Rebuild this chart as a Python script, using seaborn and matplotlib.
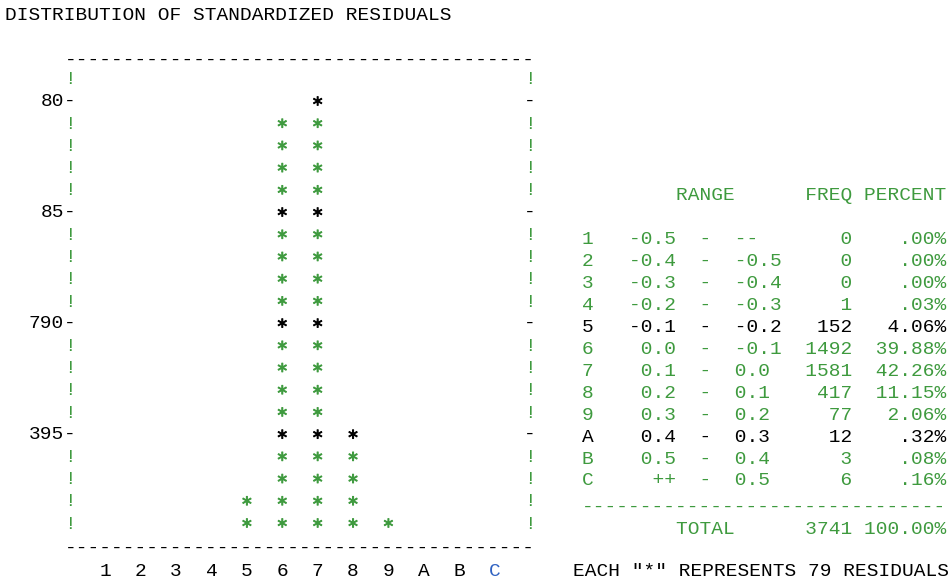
import matplotlib.pyplot as plt
import numpy as np
import pandas as pd
import seaborn as sns

# histogram bins of the standardized residuals
bins = ["1", "2", "3", "4", "5", "6", "7", "8", "9", "A", "B", "C"]
lower = ["-0.5", "-0.4", "-0.3", "-0.2", "-0.1", "0.0", "0.1", "0.2", "0.3", "0.4", "0.5", "++"]
upper = ["--", "-0.5", "-0.4", "-0.3", "-0.2", "-0.1", "0.0", "0.1", "0.2", "0.3", "0.4", "0.5"]
freq = [0, 0, 0, 1, 152, 1492, 1581, 417, 77, 12, 3, 6]
percent = [".00%", ".00%", ".00%", ".03%", "4.06%", "39.88%", "42.26%", "11.15%", "2.06%", ".32%", ".08%", ".16%"]
total_freq = 3741
total_pct = "100.00%"
per_star = 79
y_ticks = [5, 10, 15, 20]
y_tick_labels = ["395", "790", "85", "80"]
black_rows = ["5", "A"]
blue_bins = ["C"]

GREEN = "#3e9a3e"
BLUE = "#2f62c2"
FONT = "Liberation Mono"
FS = 14

sns.set_theme(style="white")
plt.rcParams["font.family"] = [FONT, "DejaVu Sans Mono"]

W, H = 951, 581
fig = plt.figure(figsize=(W / 100, H / 100), dpi=100)
ax = fig.add_axes([0, 0, 1, 1])

# layout: pixel of column 0 / level 20 and their pitch
X0, DX = 70, 35.38
Y20, DY = 101, 22.21
ax.set_xlim(-X0 / DX, (W - X0) / DX)
ax.set_ylim(20 - (H - Y20) / DY, 20 + Y20 / DY)
ax.axis("off")

n_cols = len(bins) + 1
top_level = max(y_ticks) + 1

# one star per 79 residuals
rows = []
for i, (b, f) in enumerate(zip(bins, freq)):
    n = int(f / per_star + 0.5)
    for lev in range(1, n + 1):
        rows.append({"pos": i + 1, "level": lev,
                     "kind": "mark" if lev in y_ticks else "plain"})
stars = pd.DataFrame(rows)

sns.scatterplot(data=stars, x="pos", y="level", hue="kind",
                palette={"mark": "black", "plain": GREEN},
                marker="$*$", s=40, linewidth=0.7, edgecolor="face",
                legend=False, ax=ax)

txt = dict(fontsize=FS, family=FONT)

# frame
for lev in range(1, top_level + 1):
    if lev in y_ticks:
        ax.text(0, lev, "-", ha="center", va="center", color="black", **txt)
        ax.text(n_cols, lev, "-", ha="center", va="center", color="black", **txt)
        lab = y_tick_labels[y_ticks.index(lev)]
        ax.text(-0.17, lev, lab, ha="right", va="center", color="black", **txt)
    else:
        ax.text(0, lev - 0.05, "!", ha="center", va="center", color=GREEN, **txt)
        ax.text(n_cols, lev - 0.05, "!", ha="center", va="center", color=GREEN, **txt)

dash_line = "-" * 40
ax.text(n_cols / 2, top_level + 0.85, dash_line, ha="center", va="center", color="black", **txt)
ax.text(n_cols / 2, -0.13, dash_line, ha="center", va="center", color="black", **txt)

for i, b in enumerate(bins):
    ax.text(i + 1, -1.17, b, ha="center", va="center",
            color=BLUE if b in blue_bins else "black", **txt)

# title
fig.text(5 / W, 1 - 16 / H, "DISTRIBUTION OF STANDARDIZED RESIDUALS",
         ha="left", va="center", color="black", **txt)

# frequency table on the right
TX = 582
def put(py, s, color):
    fig.text(TX / W, 1 - (py + 2) / H, s, ha="left", va="center", color=color, **txt)

put(193, "        RANGE      FREQ PERCENT", GREEN)
for k, (b, lo, hi, f, p) in enumerate(zip(bins, lower, upper, freq, percent)):
    line = f"{b}   {lo:>4}  -  {hi:<4}{f:>6}{p:>8}"
    put(238 + 21.9 * k, line, "black" if b in black_rows else GREEN)
put(505, "-" * 31, GREEN)
put(527, f"        TOTAL     {total_freq:>5} {total_pct}", GREEN)
fig.text(949 / W, 1 - 572 / H, f'EACH "*" REPRESENTS {per_star} RESIDUALS',
         ha="right", va="center", color="black", **txt)

fig.savefig("out.png", dpi=100)
